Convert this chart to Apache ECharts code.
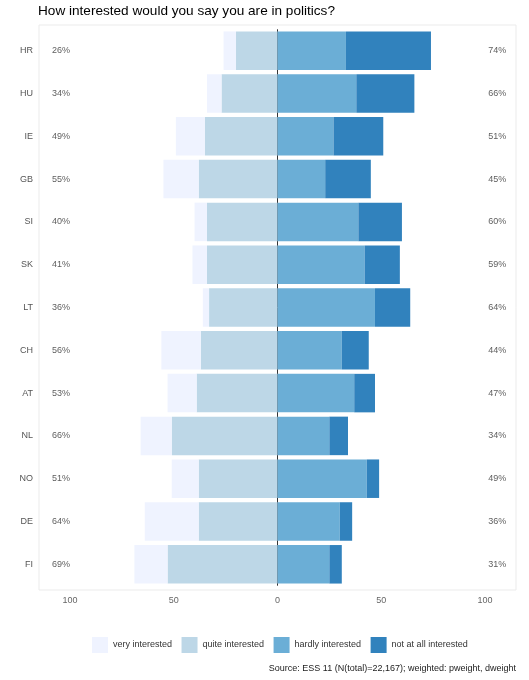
<!DOCTYPE html>
<html>
<head>
<meta charset="utf-8">
<title>Interest in politics</title>
<script src="https://cdn.jsdelivr.net/npm/echarts@6/dist/echarts.min.js"></script>
<style>
  html, body { margin: 0; padding: 0; background: #fff; }
  #chart { width: 529px; height: 680px; }
</style>
</head>
<body>
<div id="chart"></div>
<script>
// countries, top to bottom
var countries = ['HR', 'HU', 'IE', 'GB', 'SI', 'SK', 'LT', 'CH', 'AT', 'NL', 'NO', 'DE', 'FI'];

// shares in %
var veryInterested  = [6, 7, 14, 17, 6, 7, 3, 19, 14, 15, 13, 26, 16];
var quiteInterested = [20, 27, 35, 38, 34, 34, 33, 37, 39, 51, 38, 38, 53];
var hardlyInterested = [33, 38, 27, 23, 39, 42, 47, 31, 37, 25, 43, 30, 25];
var notAtAll        = [41, 28, 24, 22, 21, 17, 17, 13, 10, 9, 6, 6, 6];

// totals printed at the sides
var leftPct  = [26, 34, 49, 55, 40, 41, 36, 56, 53, 66, 51, 64, 69];
var rightPct = [74, 66, 51, 45, 60, 59, 64, 44, 47, 34, 49, 36, 31];

var xTicks = [-100, -50, 0, 50, 100];

var colors = {
  very: '#eff3ff',
  quite: '#bdd7e7',
  hardly: '#6baed6',
  not: '#3182bd'
};

var chart = echarts.init(document.getElementById('chart'));

function neg(arr) {
  return arr.map(function (v) { return -v; });
}

var font = 'Liberation Sans, Arial, Helvetica, sans-serif';

function barSeries(name, color, data) {
  return {
    name: name,
    type: 'bar',
    stack: 'total',
    barWidth: '90%',
    zlevel: 1,
    itemStyle: { color: color },
    data: data
  };
}

var option = {
  animation: false,
  textStyle: { fontFamily: font },
  title: [{
    text: 'How interested would you say you are in politics?',
    left: 38,
    top: 4,
    padding: 0,
    textStyle: { fontSize: 13.6, fontWeight: 'normal', color: '#000', fontFamily: font }
  }, {
    text: 'Source: ESS 11 (N(total)=22,167); weighted: pweight, dweight',
    right: 13,
    top: 664,
    padding: 0,
    textStyle: { fontSize: 9, fontWeight: 'normal', color: '#222', fontFamily: font }
  }],
  legend: {
    left: 92,
    top: 637,
    padding: 0,
    icon: 'rect',
    itemWidth: 16,
    itemHeight: 16,
    itemGap: 9.5,
    selectedMode: false,
    textStyle: { fontSize: 9, color: '#333', fontFamily: font },
    data: ['very interested', 'quite interested', 'hardly interested', 'not at all interested']
  },
  grid: {
    left: 39,
    right: 13,
    top: 29.3,
    bottom: 94.3,
    containLabel: false
  },
  graphic: [{
    type: 'rect',
    shape: { x: 39, y: 25, width: 477, height: 565 },
    style: { fill: 'none', stroke: '#ebebeb', lineWidth: 1 },
    silent: true,
    z: -1
  }],
  xAxis: {
    type: 'value',
    min: -115,
    max: 115,
    axisLine: { show: false },
    axisTick: { show: false },
    splitLine: { show: false },
    axisLabel: {
      customValues: xTicks,
      margin: 10,
      fontSize: 9,
      color: '#666',
      formatter: function (v) { return Math.abs(v); }
    }
  },
  yAxis: {
    type: 'category',
    inverse: true,
    data: countries,
    axisLine: { show: false },
    axisTick: { show: false },
    splitLine: { show: false },
    axisLabel: { fontSize: 9, color: '#555', margin: 6 }
  },
  series: [
    barSeries('quite interested', colors.quite, neg(quiteInterested)),
    barSeries('very interested', colors.very, neg(veryInterested)),
    barSeries('hardly interested', colors.hardly, hardlyInterested),
    barSeries('not at all interested', colors.not, notAtAll),
    {
      // left totals + zero line (drawn under the bars)
      type: 'scatter',
      symbolSize: 0,
      silent: true,
      label: {
        show: true,
        position: 'right',
        distance: 0,
        fontSize: 9,
        color: '#333',
        formatter: function (p) { return leftPct[p.dataIndex] + '%'; }
      },
      data: countries.map(function (c) { return [-108.7, c]; }),
      markLine: {
        silent: true,
        symbol: 'none',
        label: { show: false },
        lineStyle: { color: '#333', width: 1, type: 'solid' },
        data: [{ xAxis: 0 }]
      }
    }, {
      // right totals
      type: 'scatter',
      symbolSize: 0,
      silent: true,
      label: {
        show: true,
        position: 'left',
        distance: 0,
        fontSize: 9,
        color: '#333',
        formatter: function (p) { return rightPct[p.dataIndex] + '%'; }
      },
      data: countries.map(function (c) { return [110.3, c]; })
    }
  ]
};

chart.setOption(option);
</script>
</body>
</html>
